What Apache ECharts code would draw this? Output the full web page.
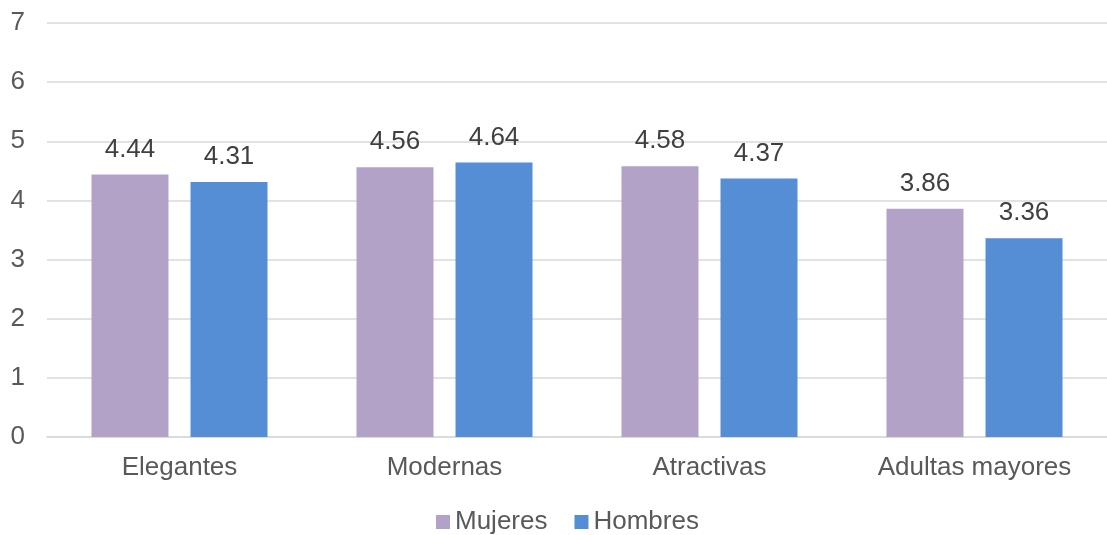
<!DOCTYPE html>
<html>
<head>
<meta charset="utf-8">
<script src="https://cdn.jsdelivr.net/npm/echarts@6/dist/echarts.min.js"></script>
<style>
  html, body { margin: 0; padding: 0; background: #ffffff; }
  #chart { width: 1107px; height: 535px; }
</style>
</head>
<body>
<div id="chart"></div>
<script>
// Valoración media por categoría y sexo
const categories = ['Elegantes', 'Modernas', 'Atractivas', 'Adultas mayores'];
const mujeres = [4.44, 4.56, 4.58, 3.86];
const hombres = [4.31, 4.64, 4.37, 3.36];
const seriesNames = ['Mujeres', 'Hombres'];

const FONT = '"Liberation Sans", Arial, sans-serif';
const chart = echarts.init(document.getElementById('chart'), null, { renderer: 'canvas' });

const barLabel = {
  show: true,
  position: 'top',
  distance: 12,
  color: '#404040',
  fontFamily: FONT,
  fontSize: 26,
  formatter: p => p.value.toFixed(2)
};

chart.setOption({
  animation: false,
  backgroundColor: '#ffffff',
  grid: { left: 47, top: 23, width: 1061, height: 414, containLabel: false },
  legend: {
    data: seriesNames,
    top: 509,
    left: 436,
    padding: 0,
    itemWidth: 14,
    itemHeight: 14,
    itemGap: 27,
    icon: 'rect',
    textStyle: { color: '#595959', fontFamily: FONT, fontSize: 26 }
  },
  xAxis: {
    type: 'category',
    data: categories,
    axisLine: { show: true, lineStyle: { color: '#D9D9D9', width: 1.5 } },
    axisTick: { show: false },
    axisLabel: { color: '#595959', fontFamily: FONT, fontSize: 26, margin: 18 }
  },
  yAxis: {
    type: 'value',
    min: 0,
    max: 7,
    interval: 1,
    axisLine: { show: false },
    axisTick: { show: false },
    splitLine: { lineStyle: { color: '#D9D9D9', width: 1.5 } },
    axisLabel: { color: '#595959', fontFamily: FONT, fontSize: 26, margin: 22 }
  },
  series: [
    {
      name: seriesNames[0],
      type: 'bar',
      data: mujeres,
      barWidth: 77,
      barGap: '28.6%',
      itemStyle: { color: '#B3A2C7' },
      label: barLabel
    },
    {
      name: seriesNames[1],
      type: 'bar',
      data: hombres,
      barWidth: 77,
      barGap: '28.6%',
      itemStyle: { color: '#558ED5' },
      label: barLabel
    }
  ]
});
</script>
</body>
</html>
